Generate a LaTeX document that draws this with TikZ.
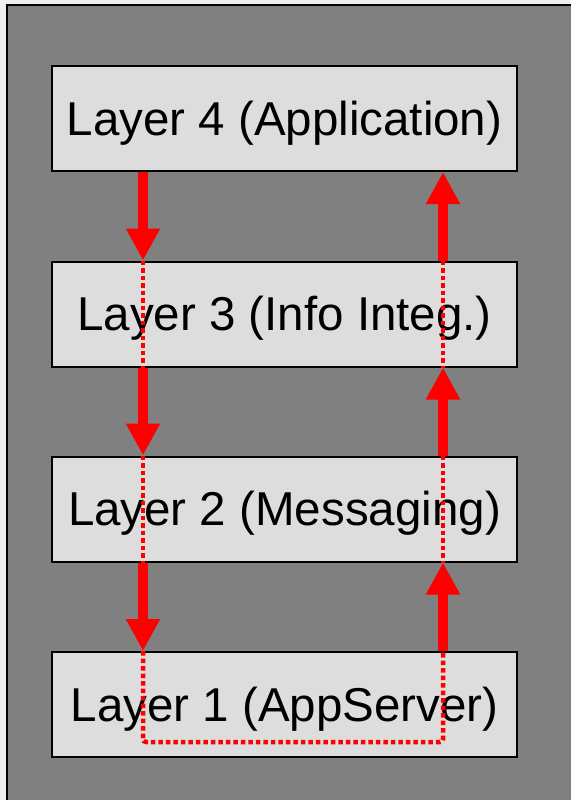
\documentclass[tikz,border=0pt]{standalone}
\usepackage{fontspec}
\setmainfont{Liberation Sans}
\usetikzlibrary{arrows.meta,calc}
\definecolor{panel}{HTML}{808080}
\definecolor{boxfill}{HTML}{DDDDDD}
\definecolor{paper}{HTML}{EEEEEE}
\definecolor{flow}{HTML}{FF0000}
\tikzset{
  layerbox/.style={draw=black, line width=2pt, fill=boxfill,
    minimum width=465pt, minimum height=105pt, inner sep=0pt,
    text height=33.5pt, text depth=0pt,
    font=\fontsize{47.5}{50}\selectfont},
  bigarrow/.style={draw=flow, line width=10pt,
    -{Triangle[width=32pt,length=32pt]}},
  dotline/.style={draw=flow, line width=4.5pt, dash pattern=on 4.5pt off 3pt,
    rounded corners=3pt}
}
\begin{document}
\begin{tikzpicture}[x=1pt,y=-1pt]
  \useasboundingbox (0,0) rectangle (570,800);
  \fill[paper] (0,0) rectangle (570,800);
  \draw[fill=panel, line width=2pt] (7,5) rectangle (580,810);

  % the four layers
  \node[layerbox] (l4) at (284.5,118.5) {Layer 4 (Application)};
  \node[layerbox] (l3) at (284.5,314)   {Layer 3 (Info Integ.)};
  \node[layerbox] (l2) at (284.5,509)   {Layer 2 (Messaging)};
  \node[layerbox] (l1) at (284.5,704.5) {Layer 1 (AppServer)};

  % columns of the down and up paths
  \coordinate (dn) at (143,0);
  \coordinate (up) at (443,0);
  \coordinate (turn) at (0,742);

  % downward path
  \draw[bigarrow] (l4.south -| dn) -- (l3.north -| dn);
  \draw[bigarrow] (l3.south -| dn) -- (l2.north -| dn);
  \draw[bigarrow] (l2.south -| dn) -- (l1.north -| dn);

  % upward path
  \draw[bigarrow] (l1.north -| up) -- (l2.south -| up);
  \draw[bigarrow] (l2.north -| up) -- (l3.south -| up);
  \draw[bigarrow] (l3.north -| up) -- (l4.south -| up);

  % dotted passage through the layers
  \draw[dotline] (l3.north -| dn) -- (l3.south -| dn);
  \draw[dotline] (l2.north -| dn) -- (l2.south -| dn);
  \draw[dotline] (l3.north -| up) -- (l3.south -| up);
  \draw[dotline] (l2.north -| up) -- (l2.south -| up);
  \draw[dotline] (l1.north -| dn) -- (turn -| dn) -- (turn -| up) -- (l1.north -| up);
\end{tikzpicture}
\end{document}
